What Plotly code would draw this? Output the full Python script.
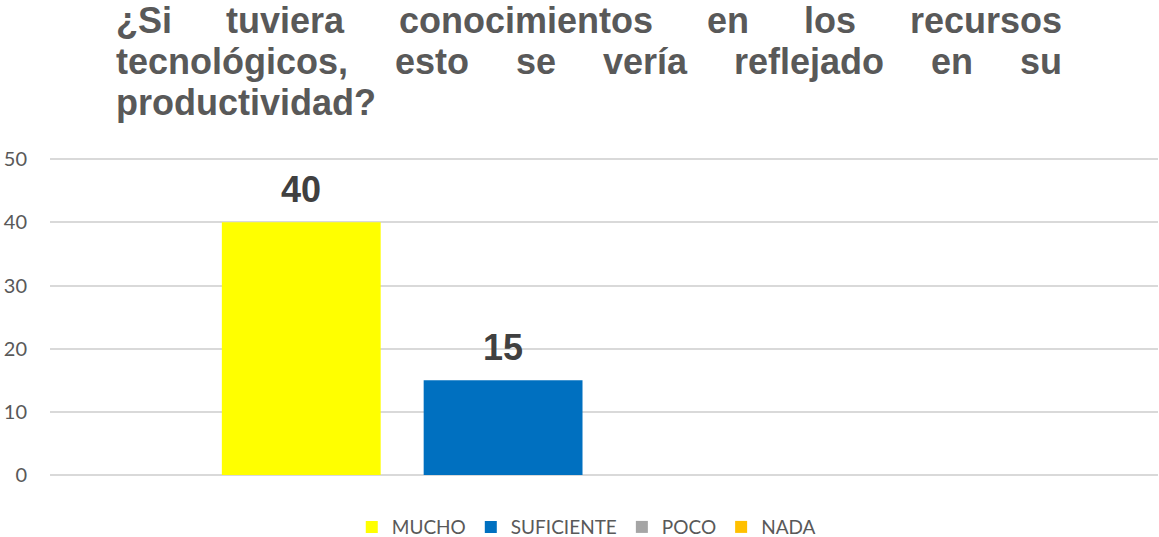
import plotly.graph_objects as go

# ---- data ----
series_names = ["MUCHO", "SUFICIENTE", "POCO", "NADA"]
series_values = [40, 15, 0, 0]
series_colors = ["#FFFF00", "#0070C0", "#A5A5A5", "#FFC000"]
y_ticks = [0, 10, 20, 30, 40, 50]
title_lines = [
    "¿Si tuviera conocimientos en los recursos",
    "tecnológicos, esto se vería reflejado en su",
    "productividad?",
]

W, H = 1159, 537
Y_MAX = 50.5
ZERO_PX = 475.0
PX_PER_UNIT = 315.5 / 50
ML, MR = 50, 1
MB = H - ZERO_PX
PH = PX_PER_UNIT * Y_MAX
MT = H - MB - PH
PW = W - ML - MR

BARGAP = 0.2714
BARGROUPGAP = 0.213

fig = go.Figure()
for name, val, col in zip(series_names, series_values, series_colors):
    fig.add_trace(go.Bar(
        x=[0], y=[val], name=name,
        marker=dict(color=col, line=dict(width=0)),
        hoverinfo="skip",
    ))

annotations = []
# value labels above the non-zero bars (bar centres follow the group layout)
n = len(series_values)
group_w = 1 - BARGAP
slot = group_w / n
for i, val in enumerate(series_values):
    if not val:
        continue
    annotations.append(dict(
        text=f"<b>{val}</b>", xref="x", yref="y",
        x=-group_w / 2 + slot * (i + 0.5), y=val,
        xanchor="center", yanchor="bottom", yshift=10, showarrow=False,
        font=dict(family="Liberation Sans", size=36, color="#404040"),
    ))

# ---- justified title built from word annotations ----
AW = {" ": 278, "¿": 611, "S": 667, "i": 278, "t": 333, "u": 611, "v": 556, "e": 556,
      "r": 389, "a": 556, "c": 556, "o": 611, "n": 611, "m": 889, "s": 556, "l": 278,
      "g": 611, "ó": 611, ",": 278, "í": 278, "f": 333, "j": 278, "d": 611, "p": 611,
      "?": 611, "y": 556}
TFS = 36
def tw(s):
    return sum(AW.get(ch, 556) for ch in s) * TFS / 1000.0

left_px, right_px = 114, 1060
baselines = [33.5, 74.5, 115.5]
for li, line in enumerate(title_lines):
    words = line.split(" ")
    widths = [tw(w) for w in words]
    last = li == len(title_lines) - 1
    if len(words) > 1 and not last:
        gap = (right_px - left_px - sum(widths)) / (len(words) - 1)
    else:
        gap = tw(" ")
    x = left_px
    cy = baselines[li] - 0.3465 * TFS
    for w, wd in zip(words, widths):
        annotations.append(dict(
            text=f"<b>{w}</b>", xref="paper", yref="paper",
            x=(x - ML) / PW, y=(H - MB - cy) / PH,
            xanchor="left", yanchor="middle", showarrow=False,
            font=dict(family="Liberation Sans", size=TFS, color="#595959"),
        ))
        x += wd + gap

fig.update_layout(
    width=W, height=H,
    margin=dict(l=ML, r=MR, t=MT, b=MB, autoexpand=False),
    paper_bgcolor="white", plot_bgcolor="white",
    barmode="group", bargap=BARGAP, bargroupgap=BARGROUPGAP,
    showlegend=True,
    legend=dict(orientation="h", x=0.484, xanchor="center", y=(ZERO_PX - 527) / PH,
                yanchor="middle", font=dict(family="Lato", size=19, color="#595959"),
                itemwidth=30, traceorder="normal"),
    annotations=annotations,
    xaxis=dict(range=[-0.5, 0.5], showticklabels=False, showgrid=False,
               zeroline=False, showline=False, fixedrange=True, automargin=False),
    yaxis=dict(range=[0, Y_MAX], tickvals=y_ticks, showgrid=True, gridcolor="#D9D9D9",
               gridwidth=1.5, zeroline=True, zerolinecolor="#D9D9D9", zerolinewidth=1.5,
               showline=False, ticks="", ticklabelstandoff=22, automargin=False,
               fixedrange=True,
               tickfont=dict(family="Lato", size=20, color="#595959")),
    font=dict(family="Lato"),
)

fig.write_html("out.html", config={"displayModeBar": False},
               post_script="document.body.style.margin='0';document.body.style.overflow='hidden';")
